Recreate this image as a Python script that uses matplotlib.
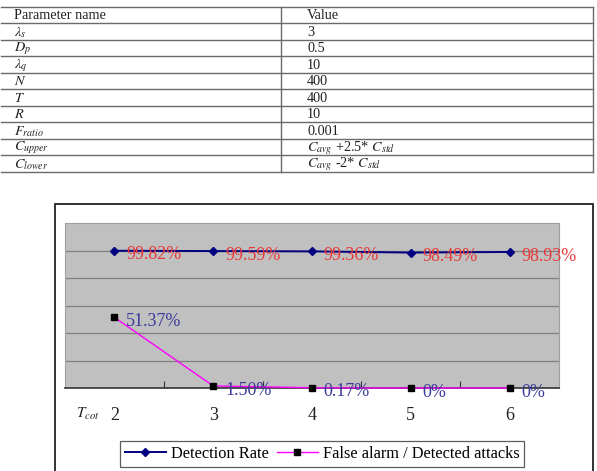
import matplotlib
matplotlib.use("Agg")
import matplotlib.pyplot as plt
from matplotlib.lines import Line2D
from matplotlib.patches import Rectangle

plt.rcParams['font.family'] = ['Liberation Serif', 'DejaVu Serif']
plt.rcParams['mathtext.fontset'] = 'stix'

# table data
param_names = [r'$\lambda_s$', r'$D_p$', r'$\lambda_q$', r'$N$', r'$T$', r'$R$',
               r'$F_{ratio}$', r'$C_{upper}$', r'$C_{lower}$']
param_values = ['3', '0.5', '10', '400', '400', '10', '0.001',
                r'$C_{avg}$ +2.5* $C_{std}$', r'$C_{avg}$ -2* $C_{std}$']

# chart data
t_cot = ['2', '3', '4', '5', '6']
detection_rate = [99.82, 99.59, 99.36, 98.49, 98.93]
false_alarm = [51.37, 1.50, 0.17, 0, 0]
false_labels = ['51.37%', '1.50%', '0.17%', '0%', '0%']

W, H = 597, 471
fig = plt.figure(figsize=(W / 100, H / 100), dpi=100)


def fx(x):
    return x / W


def fy(y):
    return 1 - y / H


# ---- table ----
top, bottom = 6.5, 172.0
n_rows = len(param_names) + 1
row_h = (bottom - top) / n_rows
div_x, right_x = 281, 593
for i in range(n_rows + 1):
    y = top + i * row_h
    fig.add_artist(Line2D([fx(1), fx(right_x)], [fy(y), fy(y)], color='#6a6a6a', lw=1.0))
fig.add_artist(Line2D([fx(div_x), fx(div_x)], [fy(top), fy(bottom)], color='#6a6a6a', lw=1.0))
fig.add_artist(Line2D([fx(right_x), fx(right_x)], [fy(top), fy(bottom)], color='#6a6a6a', lw=1.0))

rows = [('Parameter name', 'Value')] + list(zip(param_names, param_values))
for i, (name, val) in enumerate(rows):
    yc = top + (i + 0.55) * row_h
    fig.text(fx(14), fy(yc), name, fontsize=10.3, va='center', ha='left', color='#222222')
    fig.text(fx(307), fy(yc), val, fontsize=10.3, va='center', ha='left', color='#222222')

# ---- chart frame ----
fig.add_artist(Rectangle((fx(55), fy(475)), fx(593) - fx(55), fy(204) - fy(475),
                         fill=False, edgecolor='#222222', lw=1.3))

ax = fig.add_axes([fx(65), fy(388), fx(559) - fx(65), fy(223) - fy(388)])
ax.set_facecolor('#c0c0c0')
x = list(range(len(t_cot)))
det = [v / 100 for v in detection_rate]
fa = [v / 100 for v in false_alarm]

ax.set_xlim(-0.5, len(t_cot) - 0.5)
ax.set_ylim(0, 1.2)
for gy in [0.2, 0.4, 0.6, 0.8, 1.0]:
    ax.axhline(gy, color='#808080', lw=0.9, zorder=1)

ax.plot(x, det, color='#000080', marker='D', markersize=4.5, lw=1.4,
        label='Detection Rate', zorder=3, clip_on=False)
ax.plot(x, fa, color='#ff00ff', marker='s', markersize=5, markerfacecolor='black',
        markeredgecolor='black', lw=1.0, label='False alarm / Detected attacks', zorder=3,
        clip_on=False)

for xi, v in zip(x, det):
    ax.annotate(f'{v * 100:.2f}%', (xi, v), xytext=(8.5, -3), textcoords='offset points',
                ha='left', va='center', fontsize=13, color='#e8393a', zorder=4,
                annotation_clip=False)
for xi, v, lab in zip(x, fa, false_labels):
    ax.annotate(lab, (xi, v), xytext=(8.5, -3), textcoords='offset points',
                ha='left', va='center', fontsize=13, color='#3b3b9b', zorder=4,
                annotation_clip=False)

ax.set_xticks([i + 0.5 for i in range(len(t_cot) - 1)])
ax.set_xticklabels([])
ax.tick_params(axis='x', direction='in', length=5, color='#333333')
ax.set_yticks([])
for i, lab in enumerate(t_cot):
    ax.text(i, -0.2, lab, transform=ax.transData, ha='center', va='center',
            fontsize=13, color='#222222')
fig.text(fx(88), fy(414), r'$T_{cot}$', fontsize=11, ha='center', va='center', color='#222222')

for s in ['top', 'right', 'left']:
    ax.spines[s].set_color('#a0a0a0')
    ax.spines[s].set_linewidth(0.8)
ax.spines['bottom'].set_color('#333333')
ax.spines['bottom'].set_linewidth(1.2)

leg = ax.legend(loc='center', bbox_to_anchor=(fx(322), fy(454)), bbox_transform=fig.transFigure,
                ncol=2, fontsize=11.8, frameon=True, fancybox=False, edgecolor='#333333',
                handlelength=2.5, handletextpad=0.3, columnspacing=0.5, borderpad=0.3)
leg.get_frame().set_linewidth(0.9)

fig.savefig('out.png', dpi=100)
